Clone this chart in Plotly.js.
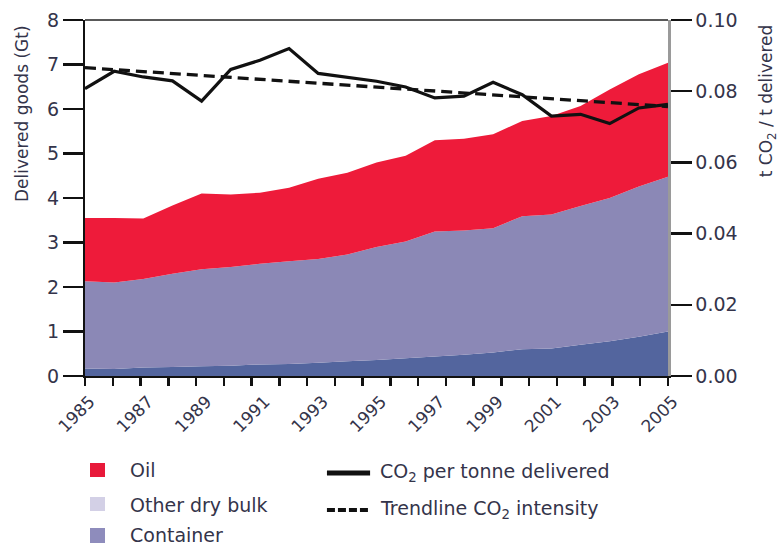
<!DOCTYPE html>
<html><head><meta charset="utf-8">
<script src="https://cdn.plot.ly/plotly-3.0.1.min.js"></script>
<style>body{margin:0;padding:0;background:#fff}#chart{width:781px;height:544px}</style>
</head><body><div id="chart"></div>
<script>
const years = [1985,1986,1987,1988,1989,1990,1991,1992,1993,1994,1995,1996,1997,1998,1999,2000,2001,2002,2003,2004,2005];
const container = [0.17,0.16,0.19,0.20,0.22,0.23,0.26,0.27,0.30,0.33,0.36,0.40,0.44,0.48,0.53,0.60,0.62,0.70,0.78,0.88,1.00];
const otherDryBulk = [1.96,1.94,1.99,2.10,2.18,2.22,2.26,2.31,2.33,2.40,2.54,2.62,2.81,2.79,2.79,2.99,3.01,3.12,3.22,3.38,3.48];
const oil = [1.42,1.45,1.36,1.53,1.70,1.63,1.60,1.65,1.80,1.84,1.90,1.93,2.05,2.06,2.11,2.14,2.21,2.25,2.44,2.52,2.56];
const co2PerTonne = [0.0807,0.0856,0.0840,0.0829,0.0772,0.0861,0.0887,0.0920,0.0850,0.0840,0.0828,0.0812,0.0781,0.0786,0.0825,0.0790,0.0730,0.0735,0.0709,0.0753,0.0763];
const trendYears = [1985,2005];
const trendValues = [0.0866,0.0757];
const yTicks = [0,1,2,3,4,5,6,7,8];
const y2Ticks = [0,0.02,0.04,0.06,0.08,0.10];
const labelYears = [1985,1987,1989,1991,1993,1995,1997,1999,2001,2003,2005];

// 22 evenly spaced tick marks along the bottom axis (as drawn in the original)
const nTickMarks = 22;
const tickMarks = Array.from({length: nTickMarks}, (_, i) => years[0] + i * (years[years.length-1] - years[0]) / (nTickMarks - 1));

const FONT = '"DejaVu Sans", sans-serif';
const TXT = '#34344a';

const traces = [
  {x: years, y: container, type: 'scatter', mode: 'none', stackgroup: 'goods', fillcolor: '#53659e', name: 'Container'},
  {x: years, y: otherDryBulk, type: 'scatter', mode: 'none', stackgroup: 'goods', fillcolor: '#8b88b6', name: 'Other dry bulk'},
  {x: years, y: oil, type: 'scatter', mode: 'none', stackgroup: 'goods', fillcolor: '#ee1b3a', name: 'Oil'},
  {x: trendYears, y: trendValues, type: 'scatter', mode: 'lines', xaxis: 'x2', yaxis: 'y2', line: {color: '#111', width: 3.3, dash: '11px,6px'}, name: 'Trendline CO2 intensity'},
  {x: years, y: co2PerTonne, type: 'scatter', mode: 'lines', xaxis: 'x2', yaxis: 'y2', line: {color: '#111', width: 3.2}, name: 'CO2 per tonne delivered'}
];

const layout = {
  width: 781, height: 544,
  margin: {l: 85, r: 113, t: 20, b: 168},
  showlegend: false,
  paper_bgcolor: '#fff', plot_bgcolor: '#fff',
  font: {family: FONT, color: TXT, size: 16},
  xaxis: {
    range: [1985, 2005], tickvals: tickMarks, showticklabels: false,
    showgrid: false, zeroline: false, showline: true, linecolor: '#111', linewidth: 2,
    ticks: 'outside', ticklen: 8, tickwidth: 2.5, tickcolor: '#111'
  },
  xaxis2: {
    range: [1985, 2005], overlaying: 'x', anchor: 'y2', side: 'bottom',
    tickvals: labelYears, ticktext: labelYears.map(String), tickangle: -45,
    showgrid: false, zeroline: false, showline: false,
    ticks: 'outside', ticklen: 8, tickcolor: 'rgba(0,0,0,0)', ticklabelshift: 5,
    tickfont: {family: FONT, size: 17, color: TXT}
  },
  yaxis: {
    range: [0, 8], tickvals: yTicks, showgrid: false, zeroline: false,
    showline: true, linecolor: '#111', linewidth: 2,
    ticks: 'outside', ticklen: 20, tickwidth: 2.5, tickcolor: '#111',
    tickfont: {family: FONT, size: 19, color: TXT}
  },
  yaxis2: {
    range: [0, 0.10], tickvals: y2Ticks, tickformat: '.2f', overlaying: 'y', anchor: 'x2', side: 'right',
    showgrid: false, zeroline: false, showline: true, linecolor: '#9a9a9a', linewidth: 2.5,
    ticks: 'outside', ticklen: 21, tickwidth: 2.5, tickcolor: '#111',
    tickfont: {family: FONT, size: 19, color: TXT}
  },
  shapes: [
    {type: 'line', xref: 'paper', yref: 'paper', x0: 0, x1: 1, y0: 1, y1: 1, line: {color: '#222', width: 1.5}},
    {type: 'rect', xref: 'paper', yref: 'paper', x0: 0.0086, x1: 0.0343, y0: -0.2444, y1: -0.2837, fillcolor: '#e8193a', line: {width: 0}},
    {type: 'rect', xref: 'paper', yref: 'paper', x0: 0.0086, x1: 0.0343, y0: -0.3399, y1: -0.3792, fillcolor: '#d3d0e6', line: {width: 0}},
    {type: 'rect', xref: 'paper', yref: 'paper', x0: 0.0086, x1: 0.0343, y0: -0.4270, y1: -0.4691, fillcolor: '#8e8cbc', line: {width: 0}},
    {type: 'line', xref: 'paper', yref: 'paper', x0: 0.415, x1: 0.489, y0: -0.2725, y1: -0.2725, line: {color: '#111', width: 5}},
    {type: 'line', xref: 'paper', yref: 'paper', x0: 0.415, x1: 0.489, y0: -0.3764, y1: -0.3764, line: {color: '#111', width: 4, dash: '8px,3px'}}
  ],
  annotations: [
    {xref: 'paper', yref: 'paper', x: -0.108, y: 0.736, xanchor: 'center', yanchor: 'middle', text: 'Delivered goods (Gt)', textangle: -90, showarrow: false, font: {family: FONT, size: 17, color: TXT}},
    {xref: 'paper', yref: 'paper', x: 1.170, y: 0.772, xanchor: 'center', yanchor: 'middle', text: 't CO<sub>2</sub> / t delivered', textangle: -90, showarrow: false, font: {family: FONT, size: 17, color: TXT}},
    {xref: 'paper', yref: 'paper', x: 0.0738, y: -0.264, xanchor: 'left', yanchor: 'middle', text: 'Oil', showarrow: false, font: {family: FONT, size: 19, color: TXT}},
    {xref: 'paper', yref: 'paper', x: 0.0738, y: -0.3624, xanchor: 'left', yanchor: 'middle', text: 'Other dry bulk', showarrow: false, font: {family: FONT, size: 19, color: TXT}},
    {xref: 'paper', yref: 'paper', x: 0.0738, y: -0.448, xanchor: 'left', yanchor: 'middle', text: 'Container', showarrow: false, font: {family: FONT, size: 19, color: TXT}},
    {xref: 'paper', yref: 'paper', x: 0.5026, y: -0.2697, xanchor: 'left', yanchor: 'middle', text: 'CO<sub>2</sub> per tonne delivered', showarrow: false, font: {family: FONT, size: 19, color: TXT}},
    {xref: 'paper', yref: 'paper', x: 0.5026, y: -0.3736, xanchor: 'left', yanchor: 'middle', text: 'Trendline CO<sub>2</sub> intensity', showarrow: false, font: {family: FONT, size: 19, color: TXT}}
  ]
};

Plotly.newPlot('chart', traces, layout, {displayModeBar: false, staticPlot: true});
</script></body></html>
